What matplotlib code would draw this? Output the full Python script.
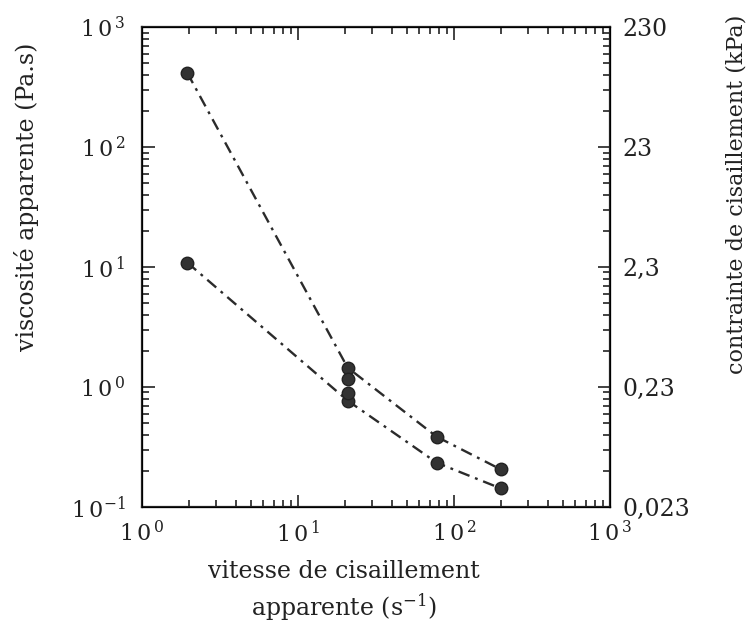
import numpy as np
import matplotlib
matplotlib.use("Agg")
import matplotlib.pyplot as plt
from matplotlib.ticker import FixedLocator, FixedFormatter, LogLocator, NullFormatter

plt.rcParams['font.family'] = ['DejaVu Serif']
plt.rcParams['mathtext.fontset'] = 'dejavuserif'

# Donnees
vitesse = [1.95, 20.8, 77.5, 199]
visc_haut = [416, 1.45, 0.385, 0.206]
visc_bas = [10.9, 0.77, 0.234, 0.143]
# points supplementaires a 20.8 s-1
vitesse_extra = [20.8, 20.8]
visc_extra = [1.16, 0.885]

xticks = [1, 10, 100, 1000]
xlabels = [r'$1\,0^{\,0}$', r'$1\,0^{\,1}$', r'$1\,0^{\,2}$', r'$1\,0^{\,3}$']
yticks = [0.1, 1, 10, 100, 1000]
ylabels = [r'$1\,0^{-1}$', r'$1\,0^{\,0}$', r'$1\,0^{\,1}$', r'$1\,0^{\,2}$', r'$1\,0^{\,3}$']
yticks_droite = [0.023, 0.23, 2.3, 23, 230]
ylabels_droite = ['0,023', '0,23', '2,3', '23', '230']

fig = plt.figure(figsize=(7.48, 6.27), dpi=100)
ax = fig.add_axes([0.1898, 0.1914, 0.6257, 0.7655])

col = '#2b2b2b'
tirets = (5, 2.5, 1.2, 2.5)
ax.plot(vitesse, visc_haut, color=col, lw=1.7, dashes=tirets, marker='o', ms=9, mfc='#333333', mec='#222222')
ax.plot(vitesse, visc_bas, color=col, lw=1.7, dashes=tirets, marker='o', ms=9, mfc='#333333', mec='#222222')
ax.plot(vitesse_extra, visc_extra, 'o', ms=9, mfc='#333333', mec='#222222')

ax.set_xscale('log')
ax.set_yscale('log')
ax.set_xlim(1, 1000)
ax.set_ylim(0.1, 1000)

ax.xaxis.set_major_locator(FixedLocator(xticks))
ax.xaxis.set_major_formatter(FixedFormatter(xlabels))
ax.yaxis.set_major_locator(FixedLocator(yticks))
ax.yaxis.set_major_formatter(FixedFormatter(ylabels))
ax.xaxis.set_minor_locator(LogLocator(base=10, subs=np.arange(2, 10)))
ax.yaxis.set_minor_locator(LogLocator(base=10, subs=np.arange(2, 10)))
ax.xaxis.set_minor_formatter(NullFormatter())
ax.yaxis.set_minor_formatter(NullFormatter())

ax.tick_params(which='both', direction='in', top=True, right=False, width=1.2, labelsize=16, colors='#222222')
ax.tick_params(which='major', length=9)
ax.tick_params(which='minor', length=5)
ax.tick_params(axis='x', pad=10)
ax.tick_params(axis='y', pad=12)
for s in ax.spines.values():
    s.set_linewidth(1.6)
    s.set_color('#222222')

ax2 = ax.twinx()
ax2.set_yscale('log')
ax2.set_ylim(0.023, 230)
ax2.yaxis.set_major_locator(FixedLocator(yticks_droite))
ax2.yaxis.set_major_formatter(FixedFormatter(ylabels_droite))
ax2.yaxis.set_minor_locator(LogLocator(base=10, subs=np.arange(2, 10) * 0.23))
ax2.yaxis.set_minor_formatter(NullFormatter())
ax2.tick_params(which='both', direction='in', width=1.2, labelsize=17, colors='#222222', pad=9)
ax2.tick_params(which='major', length=9)
ax2.tick_params(which='minor', length=5)

fig.text(0.036, 0.686, 'viscosité apparente (Pa.s)', rotation=90, ha='center', va='center', fontsize=17, color='#222222')
fig.text(0.984, 0.69, 'contrainte de cisaillement (kPa)', rotation=90, ha='center', va='center', fontsize=16, color='#222222')
fig.text(0.46, 0.057, 'vitesse de cisaillement\napparente (s$^{-1}$)', ha='center', va='center', fontsize=17, color='#222222', linespacing=1.35)

fig.savefig('out.png', dpi=100)
